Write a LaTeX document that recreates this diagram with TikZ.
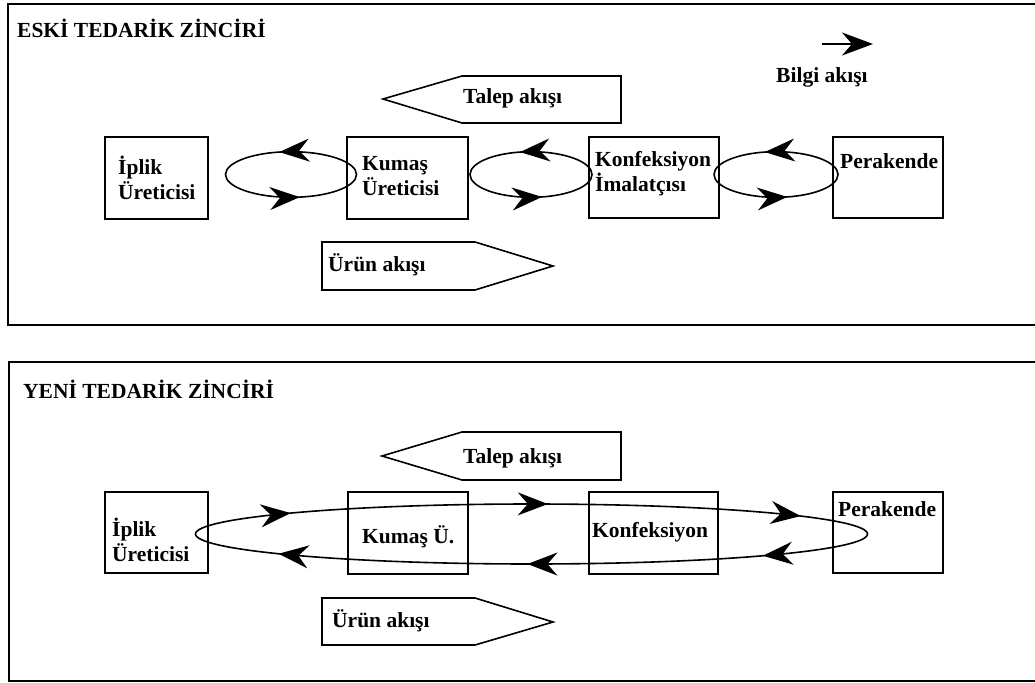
\documentclass[tikz,border=0pt]{standalone}
\usepackage{fontspec}
\setmainfont{Liberation Serif}
\usetikzlibrary{arrows.meta,decorations.markings}
\begin{document}
\begin{tikzpicture}[x=1pt,y=-1pt,
  frame/.style={line width=2pt},
  stepbox/.style={draw,line width=1.8pt,inner sep=0pt},
  flowshape/.style={draw,line width=1.6pt,line join=miter},
  lbl/.style={anchor=base west,inner sep=0pt,font=\fontsize{21.5}{25}\selectfont\bfseries,align=left},
  cyc/.style={line width=1.6pt},
  >={Stealth[length=30pt,width=23pt,inset=10pt]},
  mkarrow/.style 2 args={postaction={decorate,decoration={markings,
      mark=at position #1 with {\arrow{>}},
      mark=at position #2 with {\arrow{>}}}}},
  mkrev/.style={postaction={decorate,decoration={markings,
      mark=at position 0.052 with {\arrowreversed{>}},
      mark=at position 0.238 with {\arrowreversed{>}},
      mark=at position 0.427 with {\arrowreversed{>}},
      mark=at position 0.564 with {\arrowreversed{>}},
      mark=at position 0.747 with {\arrowreversed{>}},
      mark=at position 0.920 with {\arrowreversed{>}}}}}
]
\useasboundingbox (0,0) rectangle (1035,682);
\fill[white] (0,0) rectangle (1035,682);

% ---------- top panel ----------
\draw[frame] (1036,4) -- (8,4) -- (8,325) -- (1036,325);
\node[lbl] (t1) at (17,38) {ESKİ TEDARİK ZİNCİRİ};

\draw[flowshape] (383,99) -- (462,76) -- (621,76) -- (621,123) -- (462,123) -- cycle;
\node[lbl] (talep1) at (463,104) {Talep akışı};

\coordinate (b1) at (822,44);
\coordinate (b2) at (873,44);
\draw[line width=1.8pt,-{Stealth[length=31pt,width=23pt,inset=10pt]}] (b1) -- (b2);
\node[lbl] (bilgi) at (776,83) {Bilgi akışı};

\node[stepbox,minimum width=103pt,minimum height=82pt] (a1) at (156.5,178) {};
\node[stepbox,minimum width=121pt,minimum height=82pt] (a2) at (407.5,178) {};
\node[stepbox,minimum width=130pt,minimum height=81pt] (a3) at (654,177.5) {};
\node[stepbox,minimum width=110pt,minimum height=81pt] (a4) at (888,177.5) {};
\node[lbl] (a1t) at (118,199) {İplik\\Üreticisi};
\node[lbl] (a2t) at (362,195) {Kumaş\\Üreticisi};
\node[lbl] (a3t) at (595,191) {Konfeksiyon\\İmalatçısı};
\node[lbl] (a4t) at (840,168) {Perakende};

\draw[cyc,mkarrow={0.29}{0.78}] (291,174.5) ellipse [x radius=65.5pt,y radius=22.8pt];
\draw[cyc,mkarrow={0.29}{0.79}] (531,174.5) ellipse [x radius=61pt,y radius=22.8pt];
\draw[cyc,mkarrow={0.29}{0.79}] (776,174.5) ellipse [x radius=62pt,y radius=22.8pt];

\draw[flowshape] (322,242) -- (475,242) -- (553,266) -- (475,290) -- (322,290) -- cycle;
\node[lbl] (urun1) at (328,271.5) {Ürün akışı};

% ---------- bottom panel ----------
\draw[frame] (1036,362) -- (9,362) -- (9,681) -- (1036,681);
\node[lbl] (t2) at (23,398) {YENİ TEDARİK ZİNCİRİ};

\draw[flowshape] (382,456) -- (462,432) -- (621,432) -- (621,480) -- (462,480) -- cycle;
\node[lbl] (talep2) at (463,463) {Talep akışı};

\node[stepbox,minimum width=103pt,minimum height=81pt] (c1) at (156.5,532.2) {};
\node[stepbox,minimum width=120pt,minimum height=82pt] (c2) at (407.7,533) {};
\node[stepbox,minimum width=129pt,minimum height=82pt] (c3) at (653.7,533) {};
\node[stepbox,minimum width=110pt,minimum height=81pt] (c4) at (887.7,532.2) {};
\node[lbl] (c1t) at (112,561.7) {İplik\\Üreticisi};
\node[lbl] (c2t) at (362,543) {Kumaş Ü.};
\node[lbl] (c3t) at (592,537) {Konfeksiyon};
\node[lbl] (c4t) at (838,516.7) {Perakende};

\draw[cyc,mkrev] (531.5,534) ellipse [x radius=336pt,y radius=30pt];

\draw[flowshape] (322,598) -- (475,598) -- (553,622) -- (475,645) -- (322,645) -- cycle;
\node[lbl] (urun2) at (332,627.7) {Ürün akışı};
\end{tikzpicture}
\end{document}
